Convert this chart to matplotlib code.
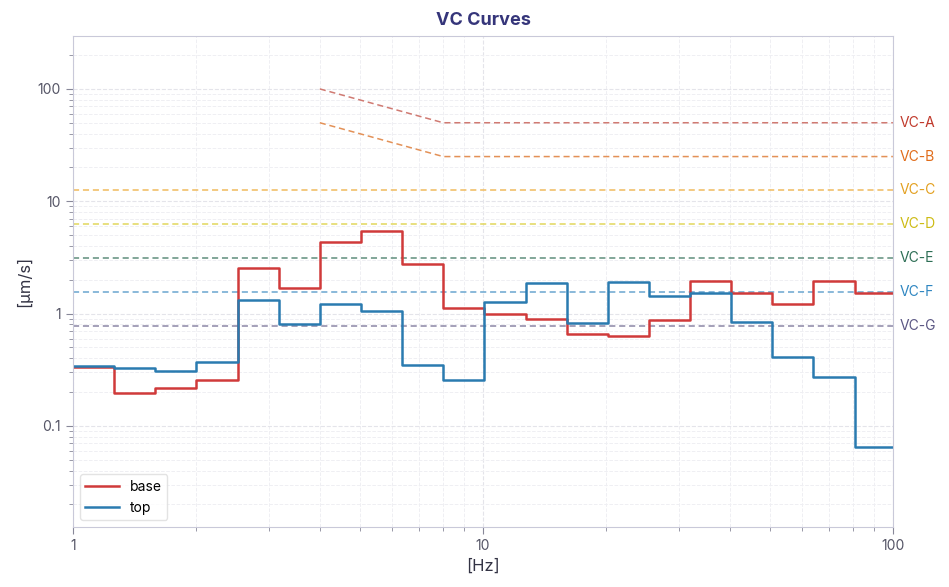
import numpy as np
import matplotlib.pyplot as plt
from matplotlib.ticker import FuncFormatter, LogLocator

plt.rcParams['font.family'] = ['Inter', 'DejaVu Sans']

# one-third octave band edges (Hz), base-2 series, last edge clipped at 100
bands = [1.0, 1.26, 1.587, 2.0, 2.52, 3.175, 4.0, 5.04, 6.35, 8.0, 10.08,
         12.7, 16.0, 20.16, 25.4, 32.0, 40.3, 50.8, 64.0, 80.6, 100.0]

base = [0.333, 0.197, 0.218, 0.259, 2.53, 1.69, 4.37, 5.47, 2.78, 1.12,
        0.99, 0.90, 0.66, 0.63, 0.88, 1.95, 1.51, 1.21, 1.95, 1.51]
top = [0.345, 0.329, 0.311, 0.372, 1.32, 0.80, 1.21, 1.06, 0.347, 0.257,
       1.27, 1.87, 0.83, 1.91, 1.42, 1.52, 0.85, 0.41, 0.27, 0.065]

# VC criteria (um/s)
vc_names = ['VC-A', 'VC-B', 'VC-C', 'VC-D', 'VC-E', 'VC-F', 'VC-G']
vc_levels = [50, 25, 12.5, 6.25, 3.12, 1.56, 0.78]
vc_colors = ['#c0392b', '#e06c1a', '#e3a020', '#cdbb14', '#2d6e55', '#2e86c1', '#5a5683']
vc_line_colors = ['#d07a72', '#e39157', '#f0bb5e', '#e2d75c', '#5f8e7c', '#6aa6cf', '#8b86a6']

fig = plt.figure(figsize=(9.49, 5.87), dpi=100)
ax = fig.add_axes([0.0769, 0.1022, 0.864, 0.8365])

# criteria lines; VC-A and VC-B slope down between 4 and 8 Hz
for i in range(len(vc_names)):
    lvl = vc_levels[i]
    if i < 2:
        xs = [4, 8, 100]
        ys = [lvl * 2, lvl, lvl]
    else:
        xs = [1, 100]
        ys = [lvl, lvl]
    ax.plot(xs, ys, linestyle='--', color=vc_line_colors[i], lw=1.1, dashes=(4, 2.5))
    ax.annotate(vc_names[i], xy=(1.008, lvl), xycoords=('axes fraction', 'data'),
                va='center', ha='left', fontsize=10, color=vc_colors[i])

ax.step(bands, base + [base[-1]], where='post', color='#d03a3a', lw=1.8, label='base')
ax.step(bands, top + [top[-1]], where='post', color='#2a7bb0', lw=1.8, label='top')

ax.set_xscale('log')
ax.set_yscale('log')
ax.set_xlim(1, 100)
ax.set_ylim(0.0126, 296)

fmt = FuncFormatter(lambda v, p: '{:g}'.format(v))
ax.xaxis.set_major_formatter(fmt)
ax.yaxis.set_major_formatter(fmt)
ax.yaxis.set_major_locator(LogLocator(base=10, numticks=10))
ax.yaxis.set_minor_locator(LogLocator(base=10, subs=np.arange(2, 10), numticks=20))

ax.grid(True, which='major', linestyle='--', color='#e4e4ea', lw=0.8)
ax.grid(True, which='minor', linestyle='--', color='#efeff3', lw=0.7)

for s in ax.spines.values():
    s.set_color('#c9c9d9')
ax.tick_params(which='both', colors='#888899', labelcolor='#555566', labelsize=10)
ax.tick_params(which='major', length=5)
ax.tick_params(which='minor', length=3)

ax.set_xlabel('[Hz]', fontsize=12, color='#333344')
ax.set_ylabel('[μm/s]', fontsize=12, color='#333344')
ax.set_title('VC Curves', fontsize=13, fontweight='bold', color='#35357a', pad=8)

leg = ax.legend(loc='lower left', fontsize=10, frameon=True, fancybox=True,
                edgecolor='#dddddd', handlelength=2.4)

fig.savefig('out.png', dpi=100)
